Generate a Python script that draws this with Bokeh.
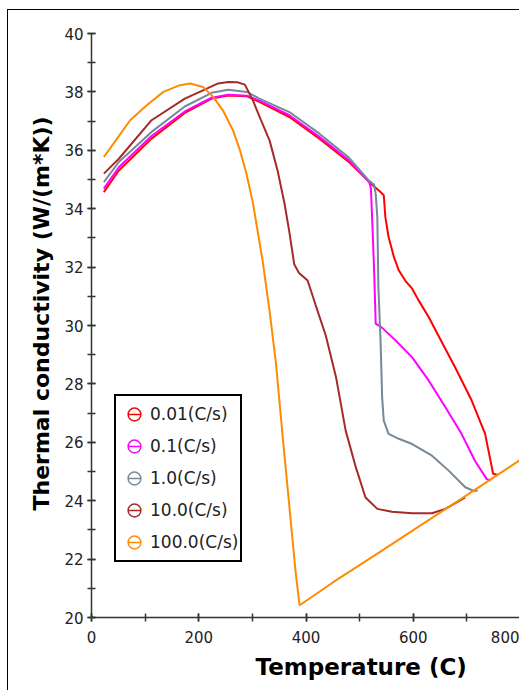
from bokeh.plotting import figure
from bokeh.models import (Legend, LegendItem, SingleIntervalTicker, Title,
                          ColumnDataSource, Range1d)
from bokeh.embed import file_html
from bokeh.resources import INLINE

# ---------------- data ----------------
series_names = ["0.01(C/s)", "0.1(C/s)", "1.0(C/s)", "10.0(C/s)", "100.0(C/s)"]
series_colors = ["#FF0000", "#FF00FF", "#778899", "#A52A2A", "#FF8C00"]

t_001 = [23, 51, 112, 174, 224, 255, 290, 313, 369, 425, 480, 526, 539, 545, 548, 554,
         564, 573, 585, 598, 610, 629, 647, 678, 709, 734, 749, 758]
k_001 = [34.57, 35.31, 36.40, 37.28, 37.77, 37.88, 37.85, 37.66, 37.14, 36.40, 35.60, 34.78,
         34.57, 34.46, 33.71, 33.03, 32.34, 31.89, 31.54, 31.26, 30.86, 30.28, 29.65, 28.57,
         27.43, 26.29, 24.92, 24.88]

t_01 = [23, 51, 112, 174, 224, 255, 290, 313, 369, 425, 480, 518, 521, 524, 527, 530, 539,
        567, 598, 629, 660, 690, 715, 737, 745]
k_01 = [34.69, 35.42, 36.49, 37.33, 37.80, 37.90, 37.87, 37.70, 37.20, 36.46, 35.66, 34.90,
        34.70, 33.37, 31.89, 30.06, 29.97, 29.49, 28.91, 28.11, 27.20, 26.29, 25.37, 24.74, 24.70]

t_1 = [23, 51, 112, 174, 224, 255, 290, 313, 369, 425, 480, 517, 527, 530, 533, 535, 539,
       542, 545, 554, 573, 598, 635, 666, 697, 712, 720]
k_1 = [34.91, 35.60, 36.63, 37.50, 37.97, 38.07, 38.00, 37.77, 37.31, 36.57, 35.75, 34.97,
       34.82, 34.50, 33.71, 31.31, 29.49, 27.54, 26.74, 26.29, 26.12, 25.94, 25.54, 25.03,
       24.46, 24.34, 24.34]

t_10 = [23, 51, 112, 174, 211, 236, 255, 272, 286, 301, 316, 332, 347, 360, 369, 378, 387,
        403, 418, 437, 456, 474, 493, 511, 533, 560, 598, 635, 660, 697]
k_10 = [35.20, 35.71, 37.03, 37.77, 38.08, 38.29, 38.34, 38.33, 38.25, 37.71, 37.03, 36.34,
        35.31, 34.17, 33.20, 32.10, 31.80, 31.54, 30.70, 29.65, 28.23, 26.40, 25.14, 24.11,
        23.72, 23.62, 23.57, 23.57, 23.72, 24.11]

t_100 = [23, 41, 72, 103, 134, 165, 184, 208, 227, 245, 264, 276, 289, 301, 319, 332, 344,
         357, 369, 381, 388, 450, 536, 600, 700, 760, 800]
k_100 = [35.77, 36.23, 37.03, 37.54, 38.00, 38.23, 38.29, 38.17, 37.83, 37.37, 36.68, 36.05,
         35.20, 34.20, 32.23, 30.51, 28.70, 26.10, 23.80, 21.49, 20.42, 21.20, 22.22, 22.99,
         24.19, 24.92, 25.40]

all_t = [t_001, t_01, t_1, t_10, t_100]
all_k = [k_001, k_01, k_1, k_10, k_100]

x_title = "Temperature (C)"
y_title = "Thermal conductivity (W/(m*K))"

# ---------------- figure ----------------
p = figure(width=512, height=681, x_range=Range1d(0, 800), y_range=Range1d(20, 40),
           output_backend="svg", toolbar_location=None,
           min_border_left=83, min_border_top=23, min_border_bottom=74, min_border_right=0)
p.grid.visible = False
p.outline_line_color = None
p.background_fill_color = "white"
p.border_fill_color = "white"
p.styles = {"border-left": "1px solid #000000", "border-top": "1px solid #000000",
            "margin-left": "7px", "margin-top": "9px"}

p.xaxis.ticker = SingleIntervalTicker(interval=200, num_minor_ticks=2)
p.yaxis.ticker = SingleIntervalTicker(interval=2, num_minor_ticks=2)
for ax in (p.xaxis, p.yaxis):
    ax.axis_line_color = "#333333"
    ax.axis_line_width = 1.5
    ax.major_tick_line_color = "#333333"
    ax.minor_tick_line_color = "#333333"
    ax.major_tick_line_width = 1.5
    ax.minor_tick_line_width = 1.5
    ax.major_tick_in = 4
    ax.major_tick_out = 4
    ax.minor_tick_in = 4
    ax.minor_tick_out = 4
    ax.major_label_text_font = "DejaVu Sans"
    ax.major_label_text_font_size = "15px"
    ax.major_label_text_color = "#222222"
p.xaxis.major_label_standoff = 9
p.yaxis.major_label_standoff = 4

yt = Title(text=y_title, align="left", offset=107, standoff=15,
           text_font="DejaVu Sans", text_font_style="bold", text_font_size="22px",
           text_color="black")
p.add_layout(yt, "left")

xt = Title(text=x_title, align="left", offset=164, standoff=12,
           text_font="DejaVu Sans", text_font_style="bold", text_font_size="23px",
           text_color="black")
p.add_layout(xt, "below")

items = []
for name, col, t, k in zip(series_names, series_colors, all_t, all_k):
    src = ColumnDataSource(dict(x=t, y=k))
    p.line("x", "y", source=src, line_color=col, line_width=2)
    r1 = p.scatter("x", "y", source=src, size=0, marker="circle",
                   fill_color=None, line_color=col, line_width=1.5)
    r2 = p.scatter("x", "y", source=src, size=0, marker="dash",
                   line_color=col, line_width=1.5)
    items.append(LegendItem(label=name, renderers=[r1, r2]))

legend = Legend(items=items, location=(23, 55))
legend.border_line_color = "black"
legend.border_line_alpha = 1.0
legend.border_line_width = 2
legend.padding = 2
legend.spacing = 0
legend.glyph_width = 32
legend.glyph_height = 32
legend.label_standoff = 0
legend.label_text_font = "DejaVu Sans"
legend.label_text_font_size = "17px"
legend.label_text_color = "#222222"
legend.background_fill_alpha = 1.0
p.add_layout(legend)

open("out.html", "w").write(file_html(p, INLINE))
